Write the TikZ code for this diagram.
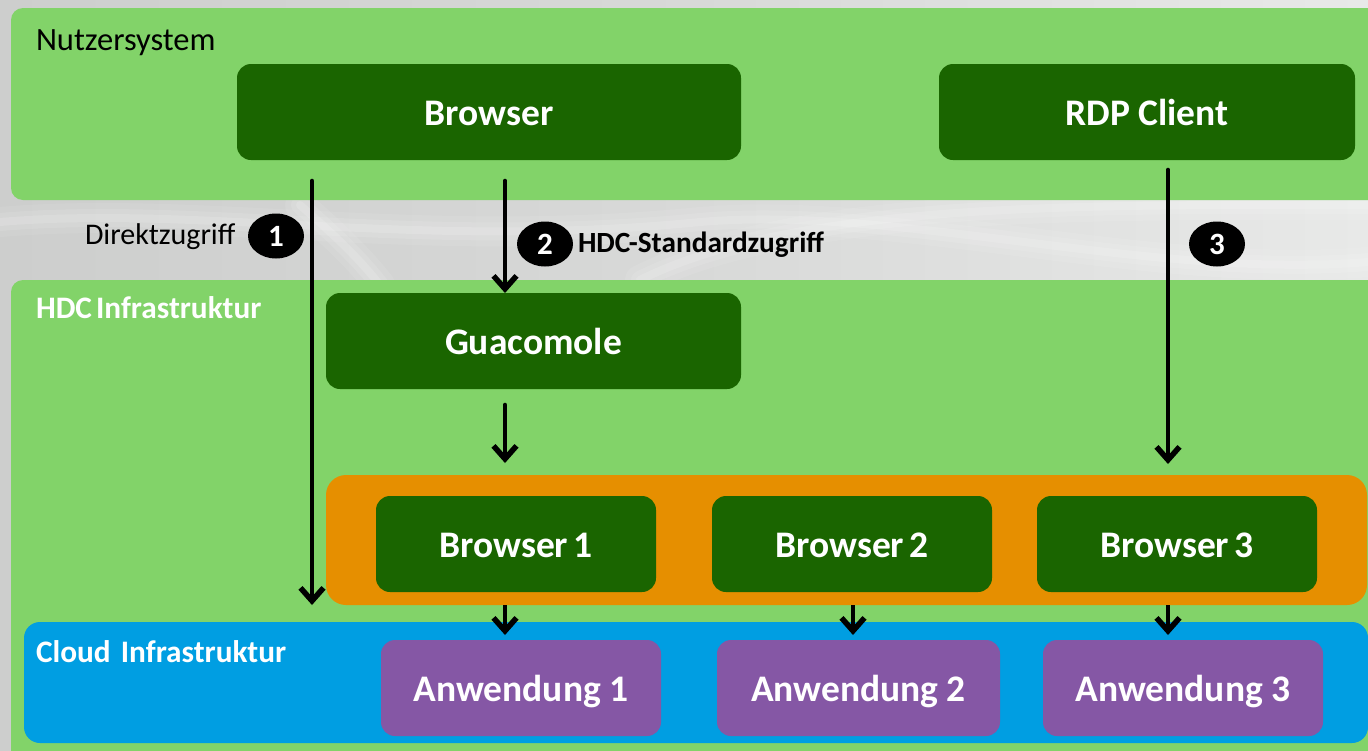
\documentclass[tikz,border=0pt]{standalone}
\usepackage{fontspec}
\setmainfont{Carlito}
\usetikzlibrary{arrows.meta,shapes.geometric}
\definecolor{bglight}{RGB}{232,233,232}
\definecolor{bgmid}{RGB}{205,206,205}
\definecolor{lightgreen}{RGB}{130,211,105}
\definecolor{darkgreen}{RGB}{26,101,0}
\definecolor{orangeb}{RGB}{230,143,0}
\definecolor{blueb}{RGB}{0,158,226}
\definecolor{purpleb}{RGB}{133,87,165}
\tikzset{
  x=1pt,y=-1pt,
  every node/.style={inner sep=0pt,outer sep=0pt},
  panel/.style={rounded corners=12pt,draw=none,anchor=north west},
  sysbox/.style={panel,fill=lightgreen},
  gbox/.style={panel,fill=darkgreen,text=white,font=\fontsize{37.5}{42}\selectfont\bfseries,rounded corners=14pt,text height=30pt,text depth=4pt},
  pbox/.style={gbox,fill=purpleb},
  badge/.style={ellipse,fill=black,text=white,minimum width=56pt,minimum height=45pt,font=\fontsize{31}{34}\selectfont\bfseries},
  arr/.style={line width=4.6pt,line cap=round,-{Straight Barb[length=13pt,width=23pt,line width=5.5pt]}},
  lab/.style={anchor=base west,font=\fontsize{32.5}{36}\selectfont},
  whitelab/.style={lab,text=white,font=\fontsize{31.3}{36}\selectfont\bfseries},
}
\begin{document}
\begin{tikzpicture}
\useasboundingbox (0,0) rectangle (1368,750);
% backdrop
\shade[left color=bgmid,right color=bglight,middle color=bgmid!60!bglight] (0,0) rectangle (1368,750);
\begin{scope}[white,line cap=round]
\foreach \w/\o in {30/.08,18/.1,8/.14}{
  \draw[opacity=\o,line width=\w pt] (0,222) .. controls (200,205) and (420,250) .. (700,222) .. controls (900,205) and (1150,280) .. (1368,262);
  \draw[opacity=\o,line width=\w pt] (300,205) .. controls (340,240) and (360,260) .. (380,285);
  \draw[opacity=\o,line width=\w pt] (640,280) .. controls (800,200) and (1100,205) .. (1368,205);
}
\end{scope}
% panels
\node[sysbox,minimum width=1400pt,minimum height=192pt] (nutzer) at (11,8) {};
\node[sysbox,minimum width=1400pt,minimum height=500pt] (hdc) at (11,280) {};
\node[panel,fill=blueb,minimum width=1344pt,minimum height=121pt,rounded corners=16pt] (cloud) at (24,622) {};
\node[panel,fill=orangeb,minimum width=1041pt,minimum height=130pt,rounded corners=20pt] (vms) at (326,475) {};
% boxes
\node[gbox,minimum width=504pt,minimum height=96pt] (browser) at (237,64) {Browser};
\node[gbox,minimum width=416pt,minimum height=96pt] (rdp) at (939,64) {RDP Client};
\node[gbox,minimum width=415pt,minimum height=96pt] (guac) at (326,293) {Guacomole};
\node[gbox,minimum width=280pt,minimum height=96pt] (b1) at (376,496) {Browser\hspace{-3pt} 1\hspace{5pt}};
\node[gbox,minimum width=280pt,minimum height=96pt] (b2) at (712,496) {Browser\hspace{-3pt} 2};
\node[gbox,minimum width=280pt,minimum height=96pt] (b3) at (1037,496) {Browser\hspace{-3pt} 3};
\node[pbox,minimum width=280pt,minimum height=96pt] (a1) at (381,640) {Anwendung 1};
\node[pbox,minimum width=283pt,minimum height=96pt] (a2) at (717,640) {Anwendung 2};
\node[pbox,minimum width=280pt,minimum height=96pt] (a3) at (1043,640) {Anwendung 3};
% labels
\node[lab] (lnutzer) at (36,50) {Nutzersystem};
\node[whitelab] (lhdc) at (36,318) {HDC\hspace{-3pt} Infrastruktur};
\node[whitelab] (lcloud) at (36,662) {Cloud\ \hspace{-4pt} Infrastruktur};
\node[lab,font=\fontsize{30}{34}\selectfont] (ldirekt) at (85,244) {Direktzugriff};
\node[lab,font=\fontsize{29.3}{34}\selectfont\bfseries] (lstd) at (578,252) {HDC-Standardzugriff};
\node[badge] (n1) at (276,236) {1};
\node[badge] (n2) at (545,244) {2};
\node[badge] (n3) at (1217,244) {3};
% connector ends
\coordinate (s1) at (312,181);
\coordinate (e1) at (312,605);
\coordinate (s2) at (505,181);
\coordinate (s3) at (1168,170);
\coordinate (e3) at (1168,464);
\coordinate (s4) at (505,405);
\coordinate (e4) at (505,463);
\coordinate (e5) at (505,635);
\coordinate (e6) at (853,635);
\coordinate (e7) at (1168,635);
% connectors
\draw[arr] (s1) -- (e1);
\draw[arr] (s2) -- (guac.north -| s2);
\draw[arr] (s3) -- (e3);
\draw[arr] (s4) -- (e4);
\draw[arr,line cap=butt] (vms.south -| e5) -- (e5);
\draw[arr,line cap=butt] (vms.south -| e6) -- (e6);
\draw[arr,line cap=butt] (vms.south -| e7) -- (e7);
\end{tikzpicture}
\end{document}
